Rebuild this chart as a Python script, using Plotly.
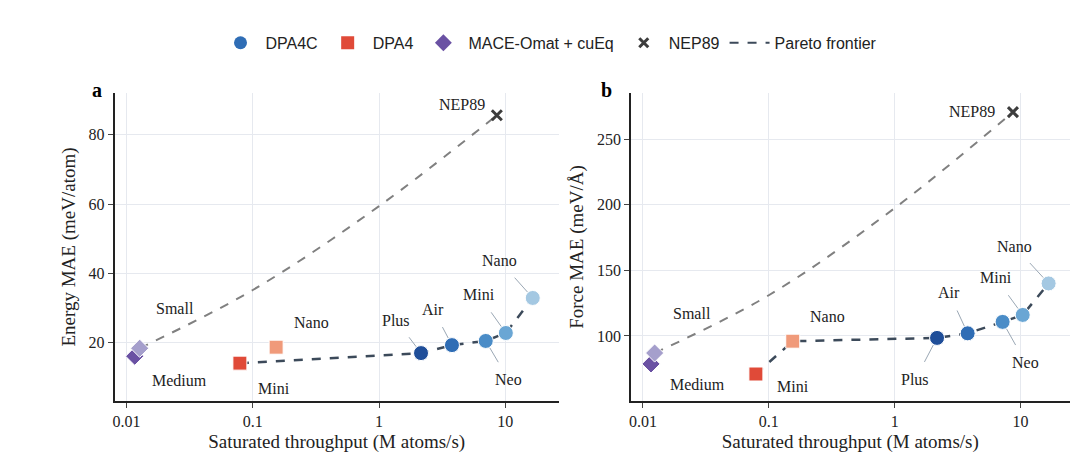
import math
import plotly.graph_objects as go

# values
dpa4c_names = ["Plus", "Air", "Neo", "Mini", "Nano"]
dpa4c_colors = ["#1f4e99", "#2f6db5", "#4a8cc7", "#6aa6d4", "#a4c8e2"]
dpa4c_x_e = [2.15, 3.78, 7.0, 10.1, 16.5]
dpa4c_e = [17.0, 19.3, 20.5, 22.8, 32.9]
dpa4c_x_f = [2.17, 3.8, 7.2, 10.4, 16.7]
dpa4c_f = [98.5, 102.0, 110.7, 116.0, 140.0]

dpa4_names = ["Mini", "Nano"]
dpa4_colors = ["#e04a38", "#f09a7a"]
dpa4_x_e = [0.079, 0.153]
dpa4_e = [14.1, 18.7]
dpa4_x_f = [0.079, 0.155]
dpa4_f = [71.0, 96.0]

mace_names = ["Medium", "Small"]
mace_colors = ["#6a51a3", "#a59fcc"]
mace_x_e = [0.0116, 0.0127]
mace_e = [16.1, 18.4]
mace_x_f = [0.0116, 0.0124]
mace_f = [78.7, 87.0]

nep_x_e, nep_e = 8.57, 85.6
nep_x_f, nep_f = 8.7, 270.5

# gray guide curve (read at a few x positions)
guide_x_e = [0.0127, 0.1, 1.0, 8.57]
guide_e = [18.4, 35.2, 59.4, 85.6]
guide_x_f = [0.0124, 0.1, 1.0, 8.7]
guide_f = [87.0, 131.0, 197.4, 270.5]

# pareto frontiers
par_x_e = [0.079] + dpa4c_x_e
par_e = [14.1] + dpa4c_e
par_x_f = [0.079, 0.155] + dpa4c_x_f
par_f = [71.0, 96.0] + dpa4c_f

SERIF = "Liberation Serif"
fig = go.Figure()

def panel(xa, ya, gx, gy, px, py, dx, dy, d4x, d4y, mx, my, nx, ny):
    fig.add_trace(go.Scatter(x=gx, y=gy, mode="lines", line=dict(color="#808080", width=2, dash="dash", shape="spline"),
                             xaxis=xa, yaxis=ya, showlegend=False))
    fig.add_trace(go.Scatter(x=px, y=py, mode="lines", line=dict(color="#3c4a5a", width=2.5, dash="dash"),
                             xaxis=xa, yaxis=ya, showlegend=False))
    fig.add_trace(go.Scatter(x=mx, y=my, mode="markers", marker=dict(symbol="diamond", size=14, color=mace_colors,
                             line=dict(color="white", width=1)), xaxis=xa, yaxis=ya, showlegend=False))
    fig.add_trace(go.Scatter(x=d4x, y=d4y, mode="markers", marker=dict(symbol="square", size=14, color=dpa4_colors,
                             line=dict(color="white", width=1)), xaxis=xa, yaxis=ya, showlegend=False))
    fig.add_trace(go.Scatter(x=dx, y=dy, mode="markers", marker=dict(symbol="circle", size=15, color=dpa4c_colors,
                             line=dict(color="white", width=1)), xaxis=xa, yaxis=ya, showlegend=False))
    fig.add_trace(go.Scatter(x=[nx], y=[ny], mode="markers", marker=dict(symbol="x-thin", size=10, color="#3d3d3d",
                             line=dict(color="#3d3d3d", width=3)), xaxis=xa, yaxis=ya, showlegend=False))

panel("x", "y", guide_x_e, guide_e, par_x_e, par_e, dpa4c_x_e, dpa4c_e, dpa4_x_e, dpa4_e, mace_x_e, mace_e, nep_x_e, nep_e)
panel("x2", "y2", guide_x_f, guide_f, par_x_f, par_f, dpa4c_x_f, dpa4c_f, dpa4_x_f, dpa4_f, mace_x_f, mace_f, nep_x_f, nep_f)

# legend entries
fig.add_trace(go.Scatter(x=[None], y=[None], mode="markers", name="DPA4C",
                         marker=dict(symbol="circle", size=13, color="#2f6db5")))
fig.add_trace(go.Scatter(x=[None], y=[None], mode="markers", name="DPA4",
                         marker=dict(symbol="square", size=13, color="#e04a38")))
fig.add_trace(go.Scatter(x=[None], y=[None], mode="markers", name="MACE-Omat + cuEq",
                         marker=dict(symbol="diamond", size=13, color="#6a51a3")))
fig.add_trace(go.Scatter(x=[None], y=[None], mode="markers", name="NEP89",
                         marker=dict(symbol="x-thin", size=9, color="#3d3d3d", line=dict(color="#3d3d3d", width=3))))
fig.add_trace(go.Scatter(x=[None], y=[None], mode="lines", name="Pareto frontier",
                         line=dict(color="#3c4a5a", width=2, dash="dash")))

ann = []
def label(xa, ya, x, y, text, ax, ay, leader):
    ann.append(dict(x=x, y=y, xref=xa, yref=ya, text=text, ax=ax, ay=ay, showarrow=True, arrowhead=0,
                    arrowwidth=1, standoff=8, startstandoff=9,
                    arrowcolor="#9aa7b4" if leader else "rgba(0,0,0,0)",
                    font=dict(family=SERIF, size=16, color="#222")))

lx = lambda v: math.log10(v)
# panel a
label("x", "y", lx(nep_x_e), nep_e, "NEP89", -35, -11, False)
label("x", "y", lx(mace_x_e[1]), mace_e[1], "Small", 35, -40, False)
label("x", "y", lx(mace_x_e[0]), mace_e[0], "Medium", 45, 24, False)
label("x", "y", lx(dpa4_x_e[1]), dpa4_e[1], "Nano", 35, -25, False)
label("x", "y", lx(dpa4_x_e[0]), dpa4_e[0], "Mini", 34, 25, False)
for n, x, y, ax, ay in zip(dpa4c_names, dpa4c_x_e, dpa4c_e, [-25, -19, 23, -27, -33], [-33, -36, 39, -38, -37]):
    label("x", "y", lx(x), y, n, ax, ay, True)
# panel b
label("x2", "y2", lx(nep_x_f), nep_f, "NEP89", -41, -1, False)
label("x2", "y2", lx(mace_x_f[1]), mace_f[1], "Small", 37, -40, False)
label("x2", "y2", lx(mace_x_f[0]), mace_f[0], "Medium", 46, 21, False)
label("x2", "y2", lx(dpa4_x_f[1]), dpa4_f[1], "Nano", 35, -25, False)
label("x2", "y2", lx(dpa4_x_f[0]), dpa4_f[0], "Mini", 37, 12, False)
for n, x, y, ax, ay in zip(dpa4c_names, dpa4c_x_f, dpa4c_f, [-22, -19, 23, -27, -34], [42, -41, 41, -37, -37]):
    label("x2", "y2", lx(x), y, n, ax, ay, True)

ann.append(dict(x=0.074, y=0.852, xref="paper", yref="paper", text="<b>a</b>", showarrow=False,
                font=dict(family=SERIF, size=20, color="black")))
ann.append(dict(x=0.553, y=0.852, xref="paper", yref="paper", text="<b>b</b>", showarrow=False,
                font=dict(family=SERIF, size=20, color="black")))

axis_common = dict(type="log", tickvals=[0.01, 0.1, 1, 10], ticktext=["0.01", "0.1", "1", "10"],
                   showline=True, linecolor="#222", linewidth=1.5, ticks="outside", ticklen=5,
                   gridcolor="#e6e9ef", zeroline=False, tickfont=dict(family=SERIF, size=16, color="#222"),
                   title=dict(text="Saturated throughput (M atoms/s)", standoff=6,
                              font=dict(family=SERIF, size=19, color="#222")))
yaxis_common = dict(showline=True, linecolor="#222", linewidth=1.5, ticks="outside", ticklen=5,
                    gridcolor="#e6e9ef", zeroline=False, tickfont=dict(family=SERIF, size=16, color="#222"))

fig.update_layout(
    width=1080, height=465, plot_bgcolor="white", paper_bgcolor="white",
    margin=dict(l=0, r=0, t=0, b=0),
    xaxis=dict(axis_common, domain=[0.097, 0.509], range=[-2.095, 1.423], anchor="y"),
    yaxis=dict(yaxis_common, domain=[0.155, 0.817], range=[3.2, 92], tickvals=[20, 40, 60, 80], anchor="x",
               title=dict(text="Energy MAE (meV/atom)", standoff=8, font=dict(family=SERIF, size=19, color="#222"))),
    xaxis2=dict(axis_common, domain=[0.576, 0.983], range=[-2.095, 1.39], anchor="y2"),
    yaxis2=dict(yaxis_common, domain=[0.155, 0.817], range=[50.5, 285], tickvals=[100, 150, 200, 250], anchor="x2",
                title=dict(text="Force MAE (meV/Å)", standoff=8, font=dict(family=SERIF, size=19, color="#222"))),
    legend=dict(orientation="h", x=0.5, xanchor="center", y=0.925, yanchor="middle",
                font=dict(family="Liberation Sans", size=16, color="#222"), itemwidth=40),
    annotations=ann,
)

fig.write_html("out.html")
